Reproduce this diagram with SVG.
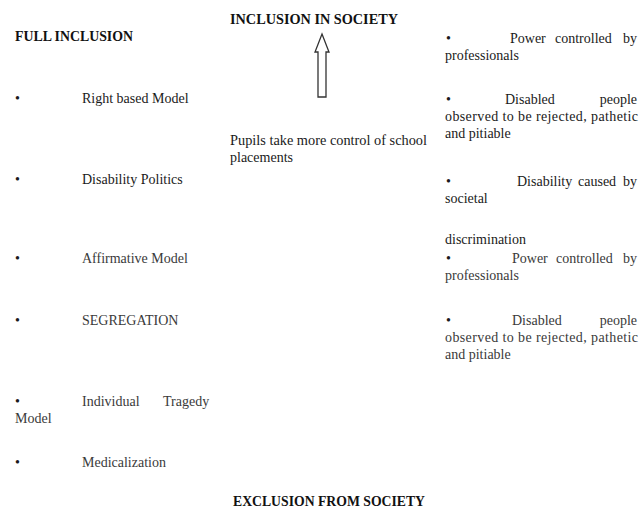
<svg xmlns="http://www.w3.org/2000/svg" width="641" height="509" viewBox="0 0 641 509">
<style>
text{font-family:"Liberation Serif","Times New Roman",serif;font-size:14px;fill:#1a1a1a}
.h{font-weight:bold;fill:#111}
.g{fill:#3a3a3a}
.e{text-anchor:end}
.arrow{fill:#fff;stroke:#333;stroke-width:1.3;stroke-linejoin:miter}
</style>
<rect width="641" height="509" fill="#fff"/>
<g id="connectors">
<polygon class="arrow" points="322,34 329,52 326,52 326,97 318,97 318,52 315,52"/>
</g>
<g id="inclusion-in-society"><text class="h" x="230" y="24" textLength="168" lengthAdjust="spacingAndGlyphs">INCLUSION IN SOCIETY</text></g>
<g id="full-inclusion"><text class="h" x="15" y="41" textLength="118" lengthAdjust="spacingAndGlyphs">FULL INCLUSION</text></g>
<g id="exclusion-from-society"><text class="h" x="233" y="506" font-size="13.5" textLength="192" lengthAdjust="spacingAndGlyphs">EXCLUSION FROM SOCIETY</text></g>
<g id="pupils">
<text x="230" y="145" textLength="197" lengthAdjust="spacingAndGlyphs">Pupils take more control of school</text>
<text x="230" y="162">placements</text>
</g>
<g id="left-list">
<g id="right-based"><text x="15" y="103">•</text><text x="82" y="103">Right based Model</text></g>
<g id="disability-politics"><text x="15" y="184">•</text><text x="82" y="184">Disability Politics</text></g>
<g id="affirmative"><text x="15" y="263">•</text><text class="g" x="82" y="263">Affirmative Model</text></g>
<g id="segregation"><text x="15" y="325">•</text><text class="g" x="82" y="325">SEGREGATION</text></g>
<g id="individual-tragedy"><text x="15" y="406">•</text><text class="g" x="82" y="406">Individual</text><text class="g" x="163" y="406">Tragedy</text><text class="g" x="15" y="423">Model</text></g>
<g id="medicalization"><text x="15" y="467">•</text><text class="g" x="82" y="467">Medicalization</text></g>
</g>
<g id="right-list">
<g id="power1"><text x="446" y="43">•</text><text x="510" y="43">Power</text><text x="555" y="43">controlled</text><text class="e" x="637" y="43">by</text><text x="445" y="60">professionals</text></g>
<g id="disabled1"><text x="446" y="104">•</text><text x="505" y="104">Disabled</text><text class="e" x="637" y="104">people</text><text x="445" y="121" textLength="193" lengthAdjust="spacing">observed to be rejected, pathetic</text><text x="445" y="138">and pitiable</text></g>
<g id="caused"><text x="446" y="186">•</text><text x="517" y="186">Disability</text><text x="578" y="186">caused</text><text class="e" x="637" y="186">by</text><text x="445" y="203">societal</text><text x="445" y="244">discrimination</text></g>
<g id="power2"><text x="446" y="263">•</text><text class="g" x="512" y="263">Power</text><text class="g" x="556" y="263">controlled</text><text class="g e" x="637" y="263">by</text><text class="g" x="445" y="280">professionals</text></g>
<g id="disabled2"><text x="446" y="325">•</text><text class="g" x="512" y="325">Disabled</text><text class="g e" x="637" y="325">people</text><text class="g" x="445" y="342" textLength="193" lengthAdjust="spacing">observed to be rejected, pathetic</text><text class="g" x="445" y="359">and pitiable</text></g>
</g>
</svg>
